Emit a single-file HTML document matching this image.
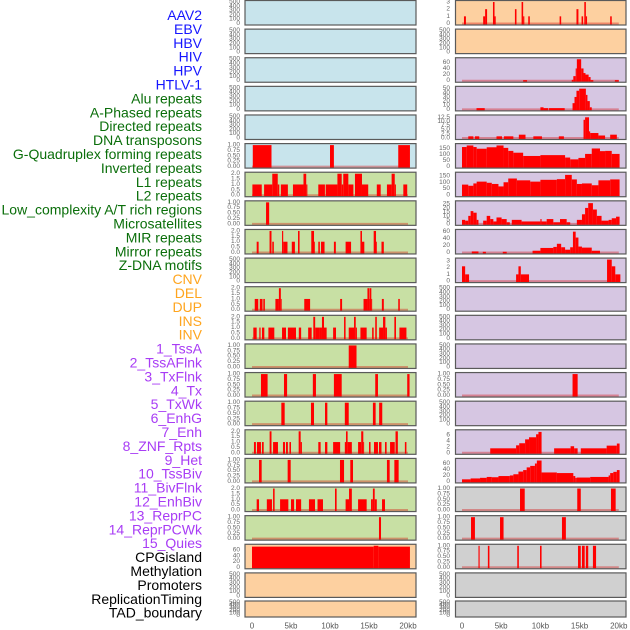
<!DOCTYPE html>
<html><head><meta charset="utf-8"><style>
html,body{margin:0;padding:0;background:#fff;}
svg{display:block;font-family:"Liberation Sans",sans-serif;}
</style></head><body>
<svg id="chart" width="630" height="630" viewBox="0 0 630 630" xmlns="http://www.w3.org/2000/svg">
<g id="labels"></g>
<g id="panels"></g>
<g id="xaxis"></g>
</svg>
<script>
const featureNames = ["AAV2","EBV","HBV","HIV","HPV","HTLV-1","Alu repeats","A-Phased repeats","Directed repeats","DNA transposons","G-Quadruplex forming repeats","Inverted repeats","L1 repeats","L2 repeats","Low_complexity A/T rich regions","Microsatellites","MIR repeats","Mirror repeats","Z-DNA motifs","CNV","DEL","DUP","INS","INV","1_TssA","2_TssAFlnk","3_TxFlnk","4_Tx","5_TxWk","6_EnhG","7_Enh","8_ZNF_Rpts","9_Het","10_TssBiv","11_BivFlnk","12_EnhBiv","13_ReprPC","14_ReprPCWk","15_Quies","CPGisland","Methylation","Promoters","ReplicationTiming","TAD_boundary"];
const featureGroups = ["v","v","v","v","v","v","r","r","r","r","r","r","r","r","r","r","r","r","r","s","s","s","s","s","c","c","c","c","c","c","c","c","c","c","c","c","c","c","c","o","o","o","o","o"];
const xTickValues = [0,5,10,15,20];
const xTickLabels = ["0","5kb","10kb","15kb","20kb"];

const tickSets = {
 E:{v:[0,100,200,300,400,500],l:["0","100","200","300","400","500"],max:500},
 U:{v:[0,0.25,0.5,0.75,1],l:["0.00","0.25","0.50","0.75","1.00"],max:1},
 T:{v:[0,0.5,1,1.5,2],l:["0.0","0.5","1.0","1.5","2.0"],max:2},
 C60:{v:[0,20,40,60],l:["0","20","40","60"],max:75},
 R3:{v:[0,1,2,3],l:["0","1","2","3"],max:3},
 H70:{v:[0,20,40,60],l:["0","20","40","60"],max:70},
 F50:{v:[0,10,20,30,40,50],l:["0","10","20","30","40","50"],max:52},
 D12:{v:[0,2.5,5,7.5,10,12.5],l:["0.0","2.5","5.0","7.5","10.0","12.5"],max:13},
 G150:{v:[0,50,100,150],l:["0","50","100","150"],max:178},
 I150:{v:[0,50,100,150],l:["0","50","100","150"],max:166},
 L25:{v:[0,5,10,15,20,25],l:["0","5","10","15","20","25"],max:27},
 M60:{v:[0,20,40,60],l:["0","20","40","60"],max:62},
 Z3:{v:[0,1,2,3],l:["0","1","2","3"],max:3.2},
 E6:{v:[0,2,4,6],l:["0","2","4","6"],max:7.2},
 H60:{v:[0,20,40,60],l:["0","20","40","60"],max:72}
};

const leftTicks = ["E","E","E","E","E","U","T","U","T","E","T","T","U","U","U","T","U","T","U","C60","E","E"];
const leftBg = ["#c8e4ec","#c8e4ec","#c8e4ec","#c8e4ec","#c8e4ec","#c8e4ec","#c8e0a4","#c8e0a4","#c8e0a4","#c8e0a4","#c8e0a4","#c8e0a4","#c8e0a4","#c8e0a4","#c8e0a4","#c8e0a4","#c8e0a4","#c8e0a4","#c8e0a4","#fdd0a0","#fdd0a0","#fdd0a0"];
const leftSegs = [
 [],[],[],[],[],
 [[0.1,2.5,1],[10.0,10.5,1],[18.75,20.25,1]],
 [[0.05,1.25,1],[1.55,2.6,1],[2.6,3.3,2],[3.3,3.5,1],[3.7,4.6,1],[5.25,6.6,1],[6.6,6.95,2],[6.95,7.1,1],[8.5,9.35,1],[9.45,10.95,1],[10.95,11.5,2],[11.5,11.7,1],[11.7,12.35,2],[12.35,13.0,1],[13.2,14.1,2],[14.1,14.9,1],[16.0,16.5,1],[17.3,17.9,1],[17.9,18.3,2],[18.3,18.45,1],[19.4,19.9,1]],
 [[1.8,2.2,1]],
 [[0.6,0.85,1],[2.25,2.5,2],[2.6,2.8,1],[3.85,4.0,2],[4.0,4.55,1],[5.1,5.5,1],[5.9,6.1,2],[7.6,7.95,2],[7.95,8.05,1],[8.5,8.7,1],[8.85,9.3,1],[10.5,10.75,1],[12.0,12.7,1],[13.9,14.1,2],[14.1,14.4,1],[15.6,15.9,2],[15.9,16.0,1],[16.6,16.9,1]],
 [],
 [[0.35,0.8,1],[1.0,1.35,1],[1.45,1.65,1],[3.0,3.45,1],[3.45,3.7,2],[3.7,3.8,1],[6.7,7.45,1],[11.3,11.55,1],[14.3,14.8,1],[14.8,15.05,2],[15.05,15.1,1],[15.1,15.3,2],[15.3,15.4,1],[16.65,16.9,1],[18.75,18.95,1]],
 [[0.17,0.6,1],[0.94,1.1,1],[1.28,1.58,1],[2.1,2.86,1],[3.85,4.36,1],[4.6,5.64,1],[6.0,6.3,1],[7.2,7.65,1],[7.86,8.1,2],[8.1,8.6,1],[8.6,8.97,1],[8.97,9.23,2],[9.23,9.57,1],[10.4,10.77,1],[11.8,12.0,2],[12.4,13.08,1],[13.08,13.3,2],[13.3,13.45,1],[13.9,14.7,1],[15.4,15.6,1],[15.8,16.0,2],[16.3,16.8,1],[16.8,17.1,2],[17.1,17.3,1],[18.25,18.46,2],[18.9,19.8,1]],
 [[12.4,13.4,1]],
 [[1.15,2.0,1],[4.1,4.5,1],[7.8,8.2,1],[10.5,11.5,1],[15.8,16.15,1],[19.9,20.2,1]],
 [[3.76,4.19,1],[7.56,7.95,1],[9.36,9.66,1],[11.9,12.4,1],[15.5,15.85,1],[16.3,16.7,1]],
 [[0.25,0.5,1],[0.64,1.15,1],[1.28,1.5,1],[2.26,2.5,2],[2.7,3.33,1],[3.97,4.23,1],[4.36,4.6,1],[4.8,5.0,1],[5.98,6.24,2],[6.24,6.4,1],[8.5,8.8,1],[9.36,9.66,1],[10.4,11.3,1],[11.9,12.05,1],[12.05,12.26,2],[12.26,12.8,1],[13.6,14.0,1],[14.0,14.27,2],[14.27,14.36,1],[15.0,15.2,1],[15.64,16.15,1],[16.28,16.6,1],[17.05,17.26,1],[17.7,18.3,1],[18.4,18.7,2],[19.6,19.8,1]],
 [[0.9,1.24,1],[4.57,4.96,1],[11.28,11.8,1],[12.6,12.95,1],[17.3,17.65,1],[18.25,18.8,1]],
 [[0.6,0.9,1],[1.9,2.56,1],[2.7,2.9,2],[3.6,4.66,1],[5.0,5.4,1],[5.64,6.3,1],[7.3,8.08,1],[8.4,9.1,1],[10.64,10.85,2],[12.0,12.44,1],[12.44,12.8,2],[13.6,14.7,1],[15.26,15.5,1],[15.5,15.73,2],[15.73,16.0,1],[16.67,17.05,1]],
 [[16.28,16.54,1]],
 [[0.0,15.6,72],[15.6,16.2,75],[16.2,20.25,72]],
 [],[]
];

const rightTicks = ["R3","E","H70","F50","D12","G150","I150","L25","M60","Z3","E","E","E","U","E","E6","H60","U","U","U","E","E"];
const rightBg = ["#fdd0a0","#fdd0a0","#d6c6e2","#d6c6e2","#d6c6e2","#d6c6e2","#d6c6e2","#d6c6e2","#d6c6e2","#d6c6e2","#d6c6e2","#d6c6e2","#d6c6e2","#d6c6e2","#d6c6e2","#d6c6e2","#d6c6e2","#d0d0d0","#d0d0d0","#d0d0d0","#d0d0d0","#d0d0d0"];
const rightSegs = [
 [[0.25,0.5,1],[2.7,2.95,1],[2.95,3.2,2],[3.95,4.15,3],[4.15,4.3,1],[6.75,6.95,2],[7.6,7.8,3],[7.8,7.95,1],[8.45,8.65,1],[12.45,12.65,1],[14.6,14.85,2],[15.25,15.45,1],[15.6,15.8,3],[15.8,15.95,1],[18.9,19.1,1]],
 [],
 [[7.8,8.3,2],[14.0,14.2,3],[14.2,14.5,15],[14.5,14.65,40],[14.65,15.2,70],[15.2,15.5,40],[15.5,15.75,25],[15.75,16.15,20],[16.15,16.4,12],[16.4,16.75,2],[19.5,20.0,2]],
 [[1.85,2.9,3],[10.0,10.4,5],[10.4,11.0,3],[11.1,13.1,3],[14.1,14.35,15],[14.35,14.6,30],[14.6,14.95,45],[14.95,15.8,50],[15.8,16.0,35],[16.0,16.3,20],[16.3,16.55,5]],
 [[0.8,1.45,1],[1.65,2.2,1],[4.4,5.1,1],[5.35,6.55,1],[7.25,8.1,2],[9.1,10.2,1],[12.35,13.0,1],[15.5,15.7,11],[15.7,16.2,12.5],[16.2,16.35,4],[16.35,17.4,3],[17.4,18.25,1.5],[18.9,19.75,2]],
 [[0,0.6,162],[0.6,1.45,175],[1.45,1.87,162],[1.87,3.15,148],[3.15,4.4,160],[4.4,5.3,175],[5.3,5.9,155],[5.9,6.55,130],[6.55,7.8,115],[7.8,10.0,88],[10.0,13.15,95],[13.15,13.8,75],[13.8,14.85,60],[14.85,15.7,72],[15.7,16.55,105],[16.55,17.6,150],[17.6,18.25,128],[18.25,19.1,130],[19.1,20.1,105]],
 [[0,0.8,82],[0.8,1.45,73],[1.45,1.87,91],[1.87,3.15,105],[3.15,3.8,96],[3.8,4.65,87],[4.65,5.3,68],[5.3,5.9,100],[5.9,7.0,129],[7.0,8.7,115],[8.7,10.0,105],[10.0,12.1,119],[12.1,13.15,124],[13.15,14.0,157],[14.0,14.65,122],[14.65,15.3,87],[15.3,16.55,91],[16.55,17.4,77],[17.4,18.9,115],[18.9,20.1,122]],
 [[0,0.4,5],[0.4,0.8,4],[0.8,1.1,10],[1.1,1.45,16],[1.45,1.87,14],[1.87,2.1,5],[2.7,3.15,4],[3.15,3.6,10],[3.6,4.0,6],[4.0,4.4,3],[4.4,5.05,8],[5.05,5.7,6],[5.7,6.1,2],[6.35,7.6,5],[7.6,10.0,3],[10.0,10.15,6],[10.15,10.8,3],[10.8,11.65,6],[11.65,12.5,2],[12.5,13.35,6],[13.35,13.8,2],[14.65,15.3,5],[15.3,15.7,12],[15.7,16.1,20],[16.1,16.7,26],[16.7,17.2,18],[17.2,17.8,10],[17.8,18.7,4],[18.7,19.1,5],[19.1,19.65,7],[19.65,20.1,9]],
 [[1.25,2.1,3],[2.65,3.05,2],[5.2,5.7,2],[9.0,10.0,5],[10.0,11.65,13],[11.65,12.1,16],[12.1,12.65,25],[12.65,13.15,15],[13.15,13.8,8],[13.8,14.15,15],[14.15,14.5,60],[14.5,14.85,43],[14.85,15.3,17],[15.3,16.55,14],[16.55,17.6,5]],
 [[0,0.4,2.2],[0.4,0.9,1],[6.9,7.2,1],[7.2,7.5,2.2],[7.5,8.55,1],[18.5,19.1,3.2],[19.1,19.55,2.2],[19.55,20.2,1]],
 [],[],[],
 [[14.1,14.75,1]],
 [],
 [[3.6,6.9,1.5],[6.9,7.3,2.5],[7.3,8.05,3.2],[8.05,8.55,4.5],[8.55,9.45,5.2],[9.45,9.75,6.2],[9.75,10.15,7],[11.75,13.85,1.5],[13.85,14.3,2.2],[14.3,14.75,1.5],[15.15,18.45,1.5],[18.45,19.75,2.4],[19.75,20.1,3.1]],
 [[0,1.1,7],[1.1,2.3,10],[2.3,3.15,12],[3.15,3.8,15],[3.8,4.65,14],[4.65,6.1,18],[6.1,6.55,20],[6.55,7.2,24],[7.2,7.8,33],[7.8,8.25,38],[8.25,8.7,47],[8.7,9.3,52],[9.3,9.55,60],[9.55,10.15,70],[10.15,12.1,30],[12.1,14.2,28],[14.2,14.45,18],[14.45,14.65,12],[14.65,16.35,13],[16.35,18.7,15],[18.7,18.9,20],[18.9,19.3,28],[19.3,19.75,32],[19.75,20.1,38]],
 [[7.4,8.0,1],[14.7,15.15,1],[19.0,19.6,1]],
 [[1.15,1.65,1],[4.85,5.3,1],[12.75,13.25,1]],
 [[2.1,2.25,1],[3.3,3.5,1],[7.05,7.25,1],[9.95,10.15,1],[14.8,15.15,1],[15.3,15.65,1],[15.8,16.1,1],[16.7,17.1,1]],
 [],[]
];

const NS="http://www.w3.org/2000/svg";
function mk(tag, attrs, parent){const e=document.createElementNS(NS,tag);for(const k in attrs)e.setAttribute(k,attrs[k]);parent.appendChild(e);return e;}
const groupColor={v:"#1515ff",r:"#0a6e0a",s:"#ffa51e",c:"#a83cf5",o:"#000000"};

// labels
const lg=document.getElementById('labels');
featureNames.forEach((n,i)=>{
  const t=mk('text',{x:202,y:15+i*13.9,'text-anchor':'end','dominant-baseline':'central','font-size':'14',fill:groupColor[featureGroups[i]]},lg);
  
  
  t.textContent=n;
});

const colX=[{x0:245,x1:416,z:252,w:7.8,tx:240},{x0:455.5,x1:626,z:462,w:7.84,tx:450}];
function rowTop(i){return i<21?0.5+i*28.62:601;}
function rowH(i){return i<21?24.5:16;}

const pg=document.getElementById('panels');
[[leftTicks,leftBg,leftSegs],[rightTicks,rightBg,rightSegs]].forEach((col,ci)=>{
  const C=colX[ci];
  const xs=kb=>C.z+kb*C.w;
  col[0].forEach((tk,i)=>{
    const T=rowTop(i),H=rowH(i),ts=tickSets[tk];
    const ys=v=>T+H-1.5-v/ts.max*(H-3);
    const g=mk('g',{},pg);
    
    
    const bg=mk('rect',{x:C.x0,y:T,width:C.x1-C.x0,height:H,fill:col[1][i]},g);
    
    
    const segs=col[2][i];
    if(segs.length){
      const bl=mk('line',{x1:xs(0),x2:xs(20),y1:T+H-1.5,y2:T+H-1.5,stroke:'rgba(215,0,0,0.35)','stroke-width':2},g);
      
      
    }
    segs.forEach(s=>{
      const y=ys(s[2]),y0=ys(0);
      const r=mk('rect',{x:xs(s[0]),y:y,width:Math.max(0.8,xs(s[1])-xs(s[0])),height:y0-y+1,fill:'#ff0000'},g);
      
      
    });
    const fr=mk('rect',{x:C.x0,y:T,width:C.x1-C.x0,height:H,fill:'none',stroke:'#5a5a5a','stroke-width':1.2},g);
    
    
    ts.v.forEach((v,k)=>{
      const t=mk('text',{x:C.tx,y:ys(v),'text-anchor':'end','dominant-baseline':'central','font-size':'6.5',fill:'#666'},g);
      
      
      t.textContent=ts.l[k];
    });
  });
});

const xg=document.getElementById('xaxis');
colX.forEach(C=>{
  xTickValues.forEach((v,k)=>{
    const t=mk('text',{x:C.z+v*C.w,y:626,'text-anchor':'middle','dominant-baseline':'central','font-size':'8',fill:'#555'},xg);
    
    
    t.textContent=xTickLabels[k];
  });
});
</script>
</body></html>
